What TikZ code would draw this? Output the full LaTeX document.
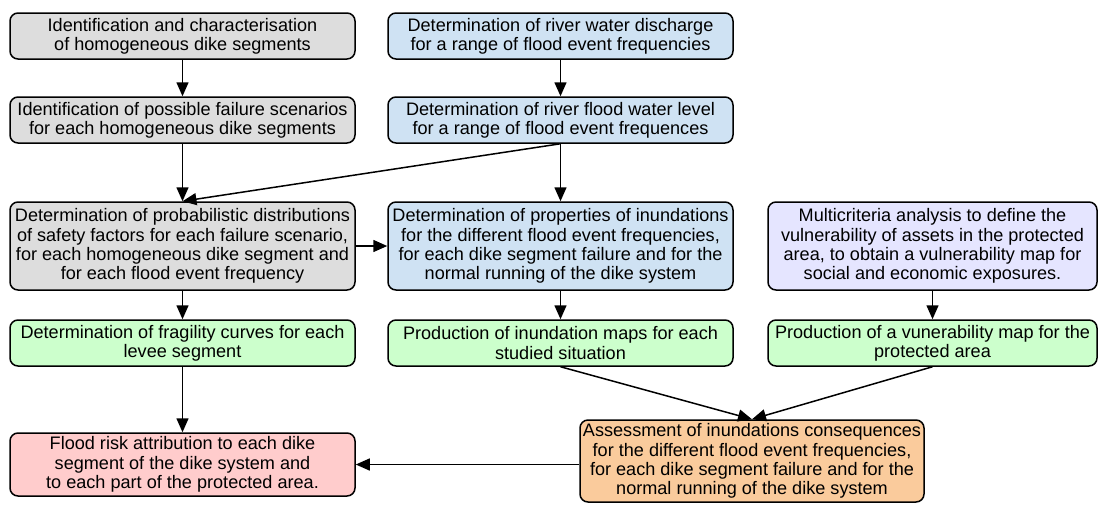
\documentclass[tikz,border=0pt]{standalone}
\usepackage{fontspec}
\setmainfont{Liberation Sans}
\usetikzlibrary{arrows.meta}

\definecolor{boxgrey}{RGB}{221,221,221}
\definecolor{boxblue}{RGB}{207,226,243}
\definecolor{boxlilac}{RGB}{229,229,255}
\definecolor{boxgreen}{RGB}{204,255,204}
\definecolor{boxpink}{RGB}{255,204,204}
\definecolor{boxorange}{RGB}{250,203,156}

\begin{document}
\begin{tikzpicture}[
  x=1pt, y=-1pt,
  box/.style={draw, line width=1.5pt, rounded corners=8pt, align=center, inner sep=1pt,
    font=\fontsize{18.1}{19.3}\selectfont},
  >={Triangle[length=14pt,width=12pt]}
]
\useasboundingbox (0,0) rectangle (1105,504);

\node[box, fill=boxgrey, minimum width=345pt, minimum height=46pt] (segments) at (182.5,36) {Identification and characterisation\\of homogeneous dike segments};
\node[box, fill=boxgrey, minimum width=345pt, minimum height=46pt] (scenarios) at (182.5,120) {Identification of possible failure scenarios\\for each homogeneous dike segments};
\node[box, fill=boxblue, minimum width=345pt, minimum height=46pt] (discharge) at (560.5,36) {Determination of river water discharge\\for a range of flood event frequencies};
\node[box, fill=boxblue, minimum width=345pt, minimum height=46pt] (waterlevel) at (560.5,120) {Determination of river flood water level\\for a range of flood event frequences};

\node[box, fill=boxgrey, minimum width=345pt, minimum height=88pt] (safety) at (182.5,246) {Determination of probabilistic distributions\\of safety factors for each failure scenario,\\for each homogeneous dike segment and\\for each flood event frequency};
\node[box, fill=boxblue, minimum width=345pt, minimum height=88pt] (inundation) at (560.5,246) {Determination of properties of inundations\\for the different flood event frequencies,\\for each dike segment failure and for the\\normal running of the dike system};
\node[box, fill=boxlilac, minimum width=329pt, minimum height=88pt] (multicriteria) at (932.5,246) {Multicriteria analysis to define the\\vulnerability of assets in the protected\\area, to obtain a vulnerability map for\\social and economic exposures.};

\node[box, fill=boxgreen, minimum width=345pt, minimum height=46pt] (fragility) at (182.5,343) {Determination of fragility curves for each\\levee segment};
\node[box, fill=boxgreen, minimum width=345pt, minimum height=46pt] (maps) at (560.5,343) {Production of inundation maps for each\\studied situation};
\node[box, fill=boxgreen, minimum width=329pt, minimum height=46pt] (vulnmap) at (932.5,343) {Production of a vunerability map for the\\protected area};

\node[box, fill=boxpink, minimum width=345pt, minimum height=63pt] (risk) at (182.5,464.5) {Flood risk attribution to each dike\\segment of the dike system and\\to each part of the protected area.};
\node[box, fill=boxorange, minimum width=344pt, minimum height=82pt] (consequences) at (752,461) {Assessment of inundations consequences\\for the different flood event frequencies,\\for each dike segment failure and for the\\normal running of the dike system};

\draw[->, line width=1.5pt] (segments) -- (scenarios);
\draw[->, line width=1.5pt] (scenarios) -- (safety);
\draw[->, line width=1.5pt] (discharge) -- (waterlevel);
\draw[->, line width=1.5pt] (waterlevel) -- (inundation);
\draw[->, line width=1.5pt] (waterlevel.south) -- (safety.north);
\draw[->, line width=1.5pt] (safety) -- (inundation);
\draw[->, line width=1.5pt] (safety) -- (fragility);
\draw[->, line width=1.5pt] (inundation) -- (maps);
\draw[->, line width=1.5pt] (multicriteria) -- (vulnmap);
\draw[->, line width=1.5pt] (fragility) -- (risk);
\draw[->, line width=1.5pt] (maps.south) -- (consequences.north);
\draw[->, line width=1.5pt] (vulnmap.south) -- (consequences.north);
\draw[->, line width=1.5pt] (consequences.west |- risk.east) -- (risk.east);
\end{tikzpicture}
\end{document}
